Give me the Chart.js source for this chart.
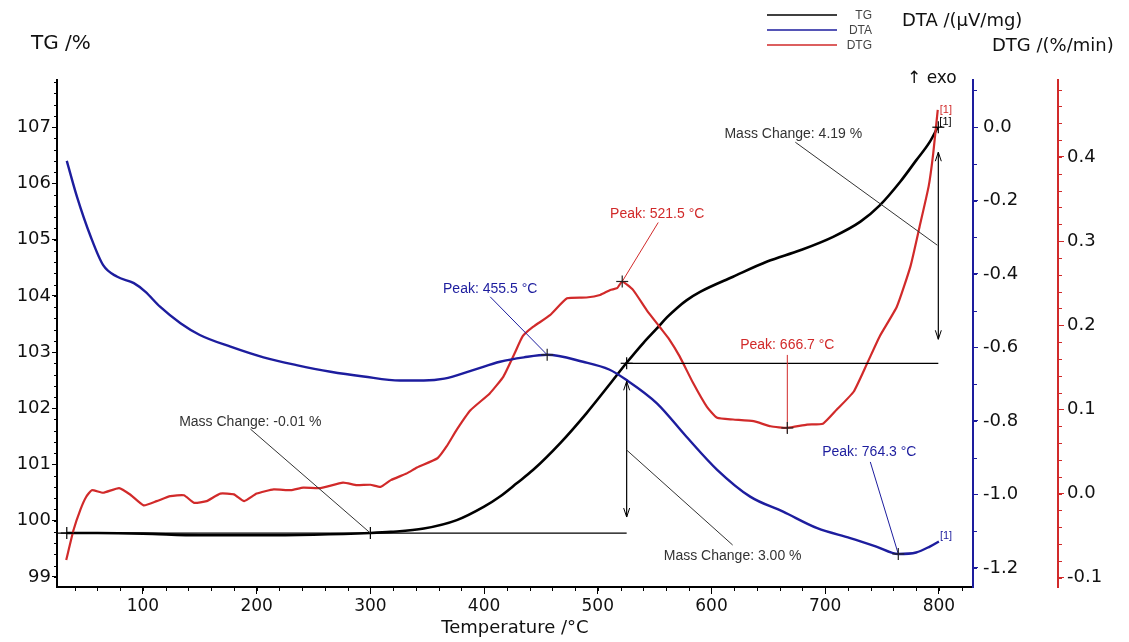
<!DOCTYPE html>
<html>
<head>
<meta charset="utf-8">
<script src="https://cdn.jsdelivr.net/npm/chart.js@4.4.1/dist/chart.umd.min.js"></script>
<style>
  html, body { margin: 0; padding: 0; background: #fff; }
  #wrap { width: 1129px; height: 642px; position: relative; }
</style>
</head>
<body>
<div id="wrap"><canvas id="tga"></canvas></div>
<script>
// TG curve: temperature (°C) and mass (%)
const tgTemp = [33, 60, 100, 150, 200, 250, 300, 318, 347, 376, 400, 414, 429, 443, 467, 490, 511, 525, 540, 552, 561, 570, 578, 590, 619, 649, 678, 707, 731, 748, 766, 780, 792, 799];
const tgMass = [99.78, 99.78, 99.77, 99.74, 99.74, 99.75, 99.78, 99.80, 99.86, 100.01, 100.25, 100.43, 100.67, 100.90, 101.38, 101.91, 102.44, 102.80, 103.16, 103.42, 103.62, 103.79, 103.92, 104.07, 104.34, 104.61, 104.81, 105.05, 105.32, 105.61, 106.03, 106.41, 106.74, 107.00];

// DTA curve: temperature (°C) and signal (µV/mg)
const dtaTemp = [33, 42, 54, 65, 77, 92, 102, 115, 133, 150, 177, 206, 235, 265, 294, 326, 347, 365, 391, 414, 435, 455.5, 487, 510, 525, 552, 578, 605, 634, 663, 693, 722, 745, 764.3, 780, 792, 800];
const dtaSignal = [-0.092, -0.19, -0.298, -0.376, -0.407, -0.425, -0.448, -0.489, -0.534, -0.566, -0.598, -0.627, -0.648, -0.666, -0.679, -0.690, -0.690, -0.685, -0.661, -0.639, -0.627, -0.620, -0.639, -0.660, -0.688, -0.752, -0.843, -0.933, -1.006, -1.047, -1.092, -1.119, -1.142, -1.162, -1.158, -1.142, -1.128];

// DTG curve: temperature (°C) and rate (%/min)
const dtgTemp = [32.5, 39, 45, 50, 55, 65, 79, 89, 100.6, 112, 124, 136, 145, 156, 168, 180, 189, 200, 215, 230, 241, 256, 276, 288, 300, 309, 318, 332, 341, 359, 367, 376, 388, 405, 417, 427, 434, 443, 458, 473, 490, 502, 511, 517, 521.5, 531, 543, 555, 563, 572, 584, 596, 605, 619, 637, 652, 666.7, 684, 698, 710, 725, 737, 748, 763, 775, 783, 791, 795, 799];
const dtgRate = [-0.079, -0.043, -0.019, -0.004, 0.004, 0.001, 0.0065, -0.0014, -0.014, -0.009, -0.003, -0.002, -0.011, -0.009, 0.000, -0.001, -0.009, 0.000, 0.005, 0.004, 0.007, 0.0065, 0.013, 0.010, 0.0105, 0.008, 0.016, 0.024, 0.031, 0.042, 0.056, 0.076, 0.099, 0.119, 0.139, 0.167, 0.187, 0.198, 0.212, 0.232, 0.233, 0.236, 0.242, 0.244, 0.252, 0.242, 0.218, 0.197, 0.183, 0.163, 0.131, 0.103, 0.090, 0.088, 0.086, 0.080, 0.078, 0.082, 0.083, 0.0995, 0.121, 0.155, 0.187, 0.222, 0.270, 0.317, 0.365, 0.404, 0.456];

// tick labels
const tempTicks = [100, 200, 300, 400, 500, 600, 700, 800];
const tgTicks = [99, 100, 101, 102, 103, 104, 105, 106, 107];
const dtaTicks = [0.0, -0.2, -0.4, -0.6, -0.8, -1.0, -1.2];
const dtgTicks = [-0.1, 0.0, 0.1, 0.2, 0.3, 0.4];

// evaluation marks
const massTemps = [33, 300, 525.4, 799.5];
const massLevels = [99.78, 99.78, 102.80, 107.00];
const massLabels = ["Mass Change: -0.01 %", "Mass Change: 3.00 %", "Mass Change: 4.19 %"];
const peakTemps = [455.5, 521.5, 666.7, 764.3];
const peakValues = [-0.620, 0.252, 0.078, -1.162];
const peakAxes = ["yDta", "yDtg", "yDtg", "yDta"];

const BLUE = "#1d1d9e";
const RED = "#d12a2a";
const SANS = "'DejaVu Sans', Verdana, sans-serif";
const ARIAL = "'Liberation Sans', Arial, sans-serif";

function pts(xs, ys) {
  return xs.map((x, i) => ({ x: x, y: ys[i] }));
}

// small ticks between the labelled ones
const minorSteps = { x: 20, yTg: 0.2, yDta: 0.1, yDtg: 0.02 };
const minorTicks = {
  id: "minorTicks",
  afterDraw(chart) {
    const ctx = chart.ctx;
    ctx.save();
    ctx.lineWidth = 1;
    Object.keys(minorSteps).forEach((id) => {
      const s = chart.scales[id];
      const step = minorSteps[id];
      const color = id === "yDta" ? BLUE : id === "yDtg" ? RED : "#000";
      ctx.strokeStyle = color;
      const start = Math.ceil(s.min / step - 1e-6);
      const end = Math.floor(s.max / step + 1e-6);
      for (let k = start; k <= end; k++) {
        const v = k * step;
        const p = Math.round(s.getPixelForValue(v)) + 0.5;
        ctx.beginPath();
        if (id === "x") {
          ctx.moveTo(p, s.top);
          ctx.lineTo(p, s.top + 4);
        } else if (id === "yTg") {
          ctx.moveTo(s.right, p);
          ctx.lineTo(s.right - 3, p);
        } else {
          ctx.moveTo(s.left, p);
          ctx.lineTo(s.left + 4, p);
        }
        ctx.stroke();
      }
    });
    ctx.restore();
  },
};

// titles, legend and the evaluation marks
const annotate = {
  id: "annotate",
  afterDatasetsDraw(chart) {
    const ctx = chart.ctx;
    const sx = chart.scales.x;
    const tg = chart.scales.yTg;
    const px = (t) => sx.getPixelForValue(t);

    function line(x1, y1, x2, y2, color, w) {
      ctx.beginPath();
      ctx.strokeStyle = color;
      ctx.lineWidth = w || 1;
      ctx.moveTo(x1, y1);
      ctx.lineTo(x2, y2);
      ctx.stroke();
    }
    function cross(x, y, color) {
      line(x - 6, y, x + 6, y, color, 1.2);
      line(x, y - 6, x, y + 6, color, 1.2);
    }
    function text(str, x, y, color, font, align) {
      ctx.fillStyle = color;
      ctx.font = font;
      ctx.textAlign = align || "center";
      ctx.textBaseline = "middle";
      ctx.fillText(str, x, y);
    }
    function arrow(x, y1, y2) {
      line(x, y1, x, y2, "#000", 1.2);
      line(x - 3, y1 + 9, x, y1, "#000", 1);
      line(x + 3, y1 + 9, x, y1, "#000", 1);
      line(x - 3, y2 - 9, x, y2, "#000", 1);
      line(x + 3, y2 - 9, x, y2, "#000", 1);
    }

    ctx.save();
    const noteFont = "14px " + ARIAL;

    // mass change steps
    const xa = px(massTemps[0]);
    const xb = px(massTemps[1]);
    const xc = px(massTemps[2]);
    const xd = px(massTemps[3]);
    const y0 = tg.getPixelForValue(massLevels[1]);
    const y1 = tg.getPixelForValue(massLevels[2]);
    const y2 = tg.getPixelForValue(massLevels[3]);

    line(chart.chartArea.left, y0, xc, y0, "#000", 1.2);
    cross(xa, y0, "#000");
    cross(xb, y0, "#000");
    line(xb - 120, y0 - 104, xb, y0, "#333", 1);
    text(massLabels[0], xb - 120, y0 - 111, "#333", noteFont);

    line(xc, y1, xd, y1, "#000", 1.2);
    cross(xc, y1, "#000");
    arrow(xc, y1 + 18, y0 - 16);
    line(xc, y0 - 83, xc + 106, y0 + 12, "#333", 1);
    text(massLabels[1], xc + 106, y0 + 23, "#333", noteFont);

    cross(xd, y2, "#000");
    arrow(xd, y2 + 25, y1 - 24);
    line(xd - 1, y2 + 118, xd - 143, y2 + 15, "#333", 1);
    text(massLabels[2], xd - 145, y2 + 7, "#333", noteFont);

    // peaks
    const offsets = [[-57, -66, -57, -58], [35, -67, 36, -59], [0, -83, 0, -73], [-29, -102, -28, -92]];
    peakTemps.forEach((t, i) => {
      const color = peakAxes[i] === "yDta" ? BLUE : RED;
      const x = px(t);
      const y = chart.scales[peakAxes[i]].getPixelForValue(peakValues[i]);
      const o = offsets[i];
      line(x + o[2], y + o[3], x, y + (i === 2 ? 5 : 0), color, 1);
      cross(x, y, "#222");
      text("Peak: " + t.toFixed(1) + " °C", x + o[0], y + o[1], color, noteFont);
    });

    // curve end labels
    const smallFont = "11px " + ARIAL;
    const dtgEnd = chart.scales.yDtg.getPixelForValue(dtgRate[dtgRate.length - 1]);
    const dtaEnd = chart.scales.yDta.getPixelForValue(dtaSignal[dtaSignal.length - 1]);
    text("[1]", px(dtgTemp[dtgTemp.length - 1]) + 2, dtgEnd, RED, smallFont, "left");
    text("[1]", xd + 1, y2 - 5, "#000", smallFont, "left");
    text("[1]", px(dtaTemp[dtaTemp.length - 1]) + 1, dtaEnd - 5, BLUE, smallFont, "left");

    // axis titles
    text("TG /%", 31, 44, "#111", "20px " + SANS, "left");
    text("DTA /(µV/mg)", 902, 21, "#111", "18px " + SANS, "left");
    text("DTG /(%/min)", 992, 46, "#111", "18px " + SANS, "left");
    text("↑ exo", 907, 79, "#111", "17px " + SANS, "left");

    // legend
    const legend = [["TG", "#000"], ["DTA", BLUE], ["DTG", RED]];
    legend.forEach((item, i) => {
      const y = 15 + i * 15;
      line(767, y, 837, y, item[1], 1.3);
      text(item[0], 872, y + 1, "#444", "12px " + ARIAL, "right");
    });
    ctx.restore();
  },
};

const ctx = document.getElementById("tga").getContext("2d");

const tgaChart = new Chart(ctx, {
  type: "line",
  data: {
    datasets: [
      {
        label: "DTA",
        data: pts(dtaTemp, dtaSignal),
        yAxisID: "yDta",
        borderColor: BLUE,
        borderWidth: 2.4,
        pointRadius: 0,
        cubicInterpolationMode: "monotone",
      },
      {
        label: "DTG",
        data: pts(dtgTemp, dtgRate),
        yAxisID: "yDtg",
        borderColor: RED,
        borderWidth: 2.2,
        pointRadius: 0,
        tension: 0.15,
      },
      {
        label: "TG",
        data: pts(tgTemp, tgMass),
        yAxisID: "yTg",
        borderColor: "#000",
        borderWidth: 2.6,
        pointRadius: 0,
        cubicInterpolationMode: "monotone",
      },
    ],
  },
  options: {
    responsive: true,
    maintainAspectRatio: false,
    animation: false,
    layout: {
      padding: { top: 80, right: 0, bottom: 0, left: 0 },
    },
    plugins: {
      legend: { display: false },
      tooltip: { enabled: false },
    },
    scales: {
      x: {
        type: "linear",
        position: "bottom",
        min: 24.4,
        max: 830,
        afterBuildTicks: (s) => {
          s.ticks = tempTicks.map((v) => ({ value: v }));
        },
        afterFit: (s) => {
          s.height = 55;
        },
        grid: { drawOnChartArea: false, tickLength: 7, tickColor: "#000" },
        border: { color: "#000", width: 2 },
        ticks: {
          autoSkip: false,
          maxRotation: 0,
          padding: 2,
          color: "#111",
          font: { family: SANS, size: 17 },
          callback: (v) => String(v),
        },
        title: {
          display: true,
          text: "Temperature /°C",
          color: "#111",
          font: { family: SANS, size: 18 },
          padding: { top: 0, bottom: 3 },
        },
      },
      yTg: {
        type: "linear",
        position: "left",
        min: 98.82,
        max: 107.84,
        afterBuildTicks: (s) => {
          s.ticks = tgTicks.map((v) => ({ value: v }));
        },
        afterFit: (s) => {
          s.width = 57;
        },
        grid: { drawOnChartArea: false, tickLength: 5, tickColor: "#000" },
        border: { color: "#000", width: 2 },
        ticks: {
          autoSkip: false,
          padding: 1,
          color: "#111",
          font: { family: SANS, size: 18 },
          callback: (v) => String(v),
        },
      },
      yDta: {
        type: "linear",
        position: "right",
        weight: 1,
        min: -1.252,
        max: 0.128,
        afterBuildTicks: (s) => {
          s.ticks = dtaTicks.map((v) => ({ value: v }));
        },
        afterFit: (s) => {
          s.width = 85;
        },
        grid: { drawOnChartArea: false, tickLength: 5, tickColor: BLUE },
        border: { color: BLUE, width: 2 },
        ticks: {
          autoSkip: false,
          padding: 5,
          color: "#111",
          font: { family: SANS, size: 18 },
          callback: (v) => v.toFixed(1),
        },
      },
      yDtg: {
        type: "linear",
        position: "right",
        weight: 2,
        min: -0.111,
        max: 0.4914,
        afterBuildTicks: (s) => {
          s.ticks = dtgTicks.map((v) => ({ value: v }));
        },
        afterFit: (s) => {
          s.width = 71;
        },
        grid: { drawOnChartArea: false, tickLength: 6, tickColor: RED },
        border: { color: RED, width: 2 },
        ticks: {
          autoSkip: false,
          padding: 3,
          color: "#111",
          font: { family: SANS, size: 18 },
          callback: (v) => v.toFixed(1),
        },
      },
    },
  },
  plugins: [minorTicks, annotate],
});
</script>
</body>
</html>
